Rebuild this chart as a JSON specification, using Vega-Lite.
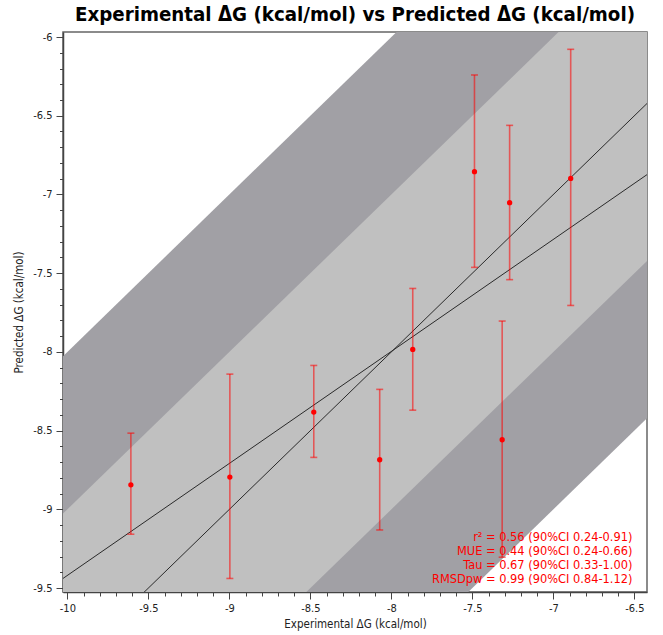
{
  "$schema": "https://vega.github.io/schema/vega-lite/v6.json",
  "width": 584,
  "height": 560,
  "autosize": {"type": "none"},
  "padding": {"left": 63, "top": 32, "right": 16, "bottom": 43},
  "background": "white",
  "title": {
    "text": "Experimental ΔG (kcal/mol) vs Predicted ΔG (kcal/mol)",
    "font": "DejaVu Sans Condensed",
    "fontSize": 20.3,
    "fontWeight": "bold",
    "color": "#000",
    "anchor": "middle",
    "offset": 6
  },
  "config": {
    "view": {"stroke": "#666", "strokeWidth": 1.5},
    "axis": {
      "domainColor": "#444",
      "domainWidth": 1.5,
      "tickColor": "#444",
      "tickWidth": 1,
      "labelFont": "DejaVu Sans Condensed",
      "labelFontSize": 11,
      "labelColor": "#222",
      "titleFont": "DejaVu Sans Condensed",
      "titleFontSize": 11.5,
      "titleFontWeight": "normal",
      "titleColor": "#222",
      "grid": false
    }
  },
  "datasets": {
    "pts": [
      {"x": -9.608, "y": -8.844, "lo": -9.158, "hi": -8.516},
      {"x": -8.997, "y": -8.795, "lo": -9.439, "hi": -8.141},
      {"x": -8.479, "y": -8.382, "lo": -8.670, "hi": -8.086},
      {"x": -8.072, "y": -8.685, "lo": -9.131, "hi": -8.238},
      {"x": -7.868, "y": -7.984, "lo": -8.370, "hi": -7.597},
      {"x": -7.487, "y": -6.855, "lo": -7.463, "hi": -6.241},
      {"x": -7.316, "y": -8.558, "lo": -9.304, "hi": -7.804},
      {"x": -7.270, "y": -7.052, "lo": -7.541, "hi": -6.561},
      {"x": -6.893, "y": -6.898, "lo": -7.705, "hi": -6.078}
    ],
    "bands": [
      {"x": -10.2, "lo2": -12.2, "hi2": -8.2, "lo1": -11.2, "hi1": -9.2},
      {"x": -6.2, "lo2": -8.2, "hi2": -4.2, "lo1": -7.2, "hi1": -5.2}
    ],
    "lines": [
      {"x": -10.2, "ident": -10.2, "fit": -9.562},
      {"x": -6.2, "ident": -6.2, "fit": -6.716}
    ],
    "stats": [
      {"x": -6.512, "y": -9.198, "label": "r² = 0.56 (90%CI 0.24-0.91)"},
      {"x": -6.512, "y": -9.293, "label": "MUE = 0.44 (90%CI 0.24-0.66)"},
      {"x": -6.512, "y": -9.382, "label": "Tau = 0.67 (90%CI 0.33-1.00)"},
      {"x": -6.512, "y": -9.470, "label": "RMSDpw = 0.99 (90%CI 0.84-1.12)"}
    ]
  },
  "encoding": {
    "x": {
      "field": "x",
      "type": "quantitative",
      "scale": {"domain": [-10.027, -6.422], "nice": false, "zero": false},
      "axis": {
        "title": "Experimental ΔG (kcal/mol)",
        "values": [-10, -9.9, -9.8, -9.7, -9.6, -9.5, -9.4, -9.3, -9.2, -9.1, -9, -8.9, -8.8, -8.7, -8.6, -8.5, -8.4, -8.3, -8.2, -8.1, -8, -7.9, -7.8, -7.7, -7.6, -7.5, -7.4, -7.3, -7.2, -7.1, -7, -6.9, -6.8, -6.7, -6.6, -6.5],
        "tickCount": 200,
        "tickSize": {"condition": {"test": "abs(datum.value*2 - round(datum.value*2)) < 0.001", "value": 7}, "value": 4},
        "labelExpr": "abs(datum.value*2 - round(datum.value*2)) < 0.001 ? '' + datum.value : ''",
        "labelPadding": 3,
        "titlePadding": 5,
        "labelFlush": false,
        "labelOverlap": false
      }
    }
  },
  "layer": [
    {
      "data": {"name": "bands"},
      "mark": {"type": "area", "color": "#a1a0a5", "clip": true},
      "encoding": {
        "y": {
          "field": "lo2",
          "type": "quantitative",
          "scale": {"domain": [-9.525, -5.968], "nice": false, "zero": false},
          "axis": {
            "title": "Predicted ΔG (kcal/mol)",
            "values": [-9.5, -9.4, -9.3, -9.2, -9.1, -9, -8.9, -8.8, -8.7, -8.6, -8.5, -8.4, -8.3, -8.2, -8.1, -8, -7.9, -7.8, -7.7, -7.6, -7.5, -7.4, -7.3, -7.2, -7.1, -7, -6.9, -6.8, -6.7, -6.6, -6.5, -6.4, -6.3, -6.2, -6.1, -6],
            "tickCount": 200,
            "tickSize": {"condition": {"test": "abs(datum.value*2 - round(datum.value*2)) < 0.001", "value": 7}, "value": 3.5},
            "labelExpr": "abs(datum.value*2 - round(datum.value*2)) < 0.001 ? '' + datum.value : ''",
            "labelPadding": 4,
            "titlePadding": 8,
            "labelFlush": false,
            "labelOverlap": false
          }
        },
        "y2": {"field": "hi2"}
      }
    },
    {
      "data": {"name": "bands"},
      "mark": {"type": "area", "color": "#c0c0c0", "clip": true},
      "encoding": {
        "y": {"field": "lo1", "type": "quantitative"},
        "y2": {"field": "hi1"}
      }
    },
    {
      "data": {"name": "lines"},
      "mark": {"type": "line", "color": "#2a2a2a", "strokeWidth": 1, "clip": true},
      "encoding": {"y": {"field": "ident", "type": "quantitative"}}
    },
    {
      "data": {"name": "lines"},
      "mark": {"type": "line", "color": "#2a2a2a", "strokeWidth": 1, "clip": true},
      "encoding": {"y": {"field": "fit", "type": "quantitative"}}
    },
    {
      "data": {"name": "pts"},
      "mark": {"type": "rule", "color": "#ff0000", "opacity": 0.55, "strokeWidth": 1.6},
      "encoding": {
        "y": {"field": "lo", "type": "quantitative"},
        "y2": {"field": "hi"}
      }
    },
    {
      "data": {"name": "pts"},
      "mark": {"type": "tick", "orient": "horizontal", "color": "#ff0000", "opacity": 0.55, "size": 7, "thickness": 1.6},
      "encoding": {"y": {"field": "lo", "type": "quantitative"}}
    },
    {
      "data": {"name": "pts"},
      "mark": {"type": "tick", "orient": "horizontal", "color": "#ff0000", "opacity": 0.55, "size": 7, "thickness": 1.6},
      "encoding": {"y": {"field": "hi", "type": "quantitative"}}
    },
    {
      "data": {"name": "pts"},
      "mark": {"type": "circle", "color": "#ff0000", "opacity": 1, "size": 28},
      "encoding": {"y": {"field": "y", "type": "quantitative"}}
    },
    {
      "data": {"name": "stats"},
      "mark": {"type": "text", "align": "right", "baseline": "alphabetic", "color": "#ff0000", "font": "DejaVu Sans Condensed", "fontSize": 12.7},
      "encoding": {
        "y": {"field": "y", "type": "quantitative"},
        "text": {"field": "label", "type": "nominal"}
      }
    }
  ]
}
